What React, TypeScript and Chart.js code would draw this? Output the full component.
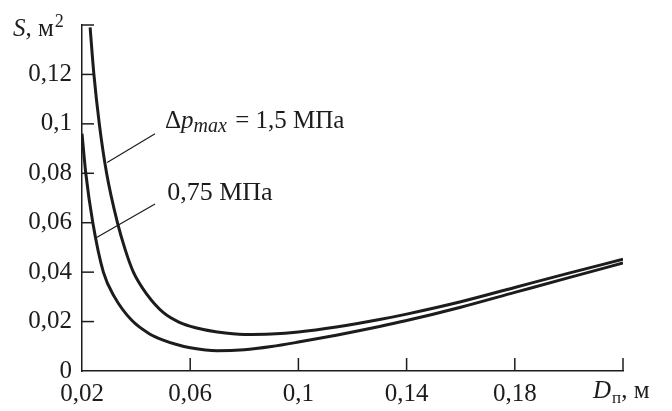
import React, { useEffect, useRef } from 'react';
import { Chart, registerables } from 'chart.js';

Chart.register(...registerables);

// Curve Δp_max = 1,5 МПа
const dUpper = [0.023, 0.0244, 0.0264, 0.0291, 0.0331, 0.036, 0.039, 0.044, 0.05, 0.056, 0.062, 0.07, 0.08, 0.09, 0.1, 0.114, 0.13, 0.14, 0.16, 0.18, 0.2, 0.22];
const sUpper = [0.139, 0.12, 0.1, 0.08, 0.06, 0.049, 0.04, 0.031, 0.0237, 0.0197, 0.0175, 0.0158, 0.0148, 0.015, 0.0158, 0.0178, 0.0208, 0.023, 0.028, 0.0338, 0.0396, 0.0452];

// Curve 0,75 МПа
const dLower = [0.02, 0.0214, 0.024, 0.0279, 0.032, 0.0384, 0.045, 0.05, 0.055, 0.06, 0.07, 0.08, 0.09, 0.1, 0.114, 0.13, 0.14, 0.16, 0.18, 0.2, 0.22];
const sLower = [0.096, 0.08, 0.06, 0.04, 0.03, 0.0205, 0.015, 0.0125, 0.0107, 0.0094, 0.0082, 0.0086, 0.0099, 0.0117, 0.0145, 0.018, 0.0204, 0.0258, 0.0318, 0.0378, 0.0437];

const xTicks = [0.02, 0.06, 0.1, 0.14, 0.18, 0.22];
const yTicks = [0, 0.02, 0.04, 0.06, 0.08, 0.1, 0.12, 0.14];

// annotation anchors (data coordinates): text start, leader from, leader to
const upperNote = { text: [0.0507, 0.0984], from: [0.047, 0.096], to: [0.0293, 0.0844] };
const lowerNote = { text: [0.0515, 0.0692], from: [0.047, 0.0676], to: [0.0254, 0.054] };

const INK = '#1e1b1c';
const FONT = '"Liberation Serif", "Times New Roman", serif';

const fmt = (v: number) => String(v).replace('.', ',');

const decor = {
  id: 'decor',
  afterDraw(chart: any) {
    const { ctx, chartArea: a } = chart;
    const x = chart.scales.x;
    const y = chart.scales.y;
    ctx.save();
    ctx.strokeStyle = INK;
    ctx.fillStyle = INK;
    ctx.lineWidth = 1.5;
    ctx.lineCap = 'butt';
    // inward tick marks
    yTicks.forEach((v) => {
      if (v === 0) return;
      const py = y.getPixelForValue(v);
      ctx.beginPath();
      ctx.moveTo(a.left, py);
      ctx.lineTo(a.left + 12, py);
      ctx.stroke();
    });
    xTicks.forEach((v, i) => {
      if (i === 0) return;
      const px = x.getPixelForValue(v);
      ctx.beginPath();
      ctx.moveTo(px, a.bottom);
      ctx.lineTo(px, a.bottom - 13);
      ctx.stroke();
    });
    // leader lines
    ctx.lineWidth = 1.2;
    [upperNote, lowerNote].forEach((n) => {
      ctx.beginPath();
      ctx.moveTo(x.getPixelForValue(n.from[0]), y.getPixelForValue(n.from[1]));
      ctx.lineTo(x.getPixelForValue(n.to[0]), y.getPixelForValue(n.to[1]));
      ctx.stroke();
    });
    ctx.textBaseline = 'alphabetic';
    ctx.textAlign = 'left';
    const put = (t: string, font: string, px: number, py: number) => {
      ctx.font = font;
      ctx.fillText(t, px, py);
      return px + ctx.measureText(t).width;
    };
    // upper annotation: Δp_max = 1,5 МПа
    {
      let px = x.getPixelForValue(upperNote.text[0]);
      const py = y.getPixelForValue(upperNote.text[1]);
      px = put('Δ', `25px ${FONT}`, px, py);
      px = put('p', `italic 25px ${FONT}`, px, py);
      px = put('max', `italic 20px ${FONT}`, px, py + 4);
      put(' = 1,5 МПа', `25px ${FONT}`, px + 2, py);
    }
    // lower annotation
    {
      const px = x.getPixelForValue(lowerNote.text[0]);
      const py = y.getPixelForValue(lowerNote.text[1]);
      put('0,75 МПа', `26px ${FONT}`, px, py);
    }
    // y axis title: S, м²
    {
      let px = a.left - 69;
      const py = a.top + 11;
      px = put('S', `italic 25px ${FONT}`, px, py);
      px = put(', м', `25px ${FONT}`, px, py);
      put('2', `18px ${FONT}`, px + 1, py - 9);
    }
    // x axis title: Dп, м
    {
      let px = a.right - 30;
      const py = a.bottom + 27;
      px = put('D', `italic 25px ${FONT}`, px, py);
      px = put('п', `17px ${FONT}`, px + 1, py + 5);
      put(', м', `25px ${FONT}`, px, py);
    }
    ctx.restore();
  },
};

export default function App() {
  const ref = useRef<HTMLCanvasElement | null>(null);
  useEffect(() => {
    document.body.style.margin = '0';
    const canvas = ref.current;
    if (!canvas) return;
    const chart = new Chart(canvas, {
      type: 'line',
      data: {
        datasets: [
          {
            label: 'Δp_max = 1,5 МПа',
            data: dUpper.map((d, i) => ({ x: d, y: sUpper[i] })),
            borderColor: INK,
            borderWidth: 3,
            pointRadius: 0,
            fill: false,
            cubicInterpolationMode: 'monotone',
          },
          {
            label: '0,75 МПа',
            data: dLower.map((d, i) => ({ x: d, y: sLower[i] })),
            borderColor: INK,
            borderWidth: 3,
            pointRadius: 0,
            fill: false,
            cubicInterpolationMode: 'monotone',
          },
        ],
      },
      options: {
        responsive: false,
        animation: false,
        layout: { padding: { top: 22, right: 49, left: 0, bottom: 0 } },
        plugins: { legend: { display: false }, tooltip: { enabled: false } },
        scales: {
          x: {
            type: 'linear',
            min: 0.02,
            max: 0.22,
            afterBuildTicks: (s: any) => {
              s.ticks = xTicks.map((v) => ({ value: v }));
            },
            afterFit: (s: any) => {
              s.height = 40;
            },
            grid: { display: true, drawOnChartArea: false, drawTicks: false },
            border: { display: true, color: INK, width: 1.5 },
            ticks: {
              autoSkip: false,
              maxRotation: 0,
              padding: 8,
              color: INK,
              font: { family: FONT, size: 25 },
              callback: (v: any) => (v === 0.22 ? '' : fmt(v)),
            },
          },
          y: {
            type: 'linear',
            min: 0,
            max: 0.14,
            afterBuildTicks: (s: any) => {
              s.ticks = yTicks.map((v) => ({ value: v }));
            },
            afterFit: (s: any) => {
              s.width = 82;
            },
            grid: { display: true, drawOnChartArea: false, drawTicks: false },
            border: { display: true, color: INK, width: 1.5 },
            ticks: {
              autoSkip: false,
              padding: 10,
              color: INK,
              font: { family: FONT, size: 25 },
              callback: (v: any) => (v === 0.14 ? '' : fmt(v)),
            },
          },
        },
      },
      plugins: [decor],
    });
    return () => chart.destroy();
  }, []);
  return (
    <div style={{ width: 672, height: 411, background: '#fff' }}>
      <canvas ref={ref} width={672} height={411} style={{ display: 'block' }} />
    </div>
  );
}
